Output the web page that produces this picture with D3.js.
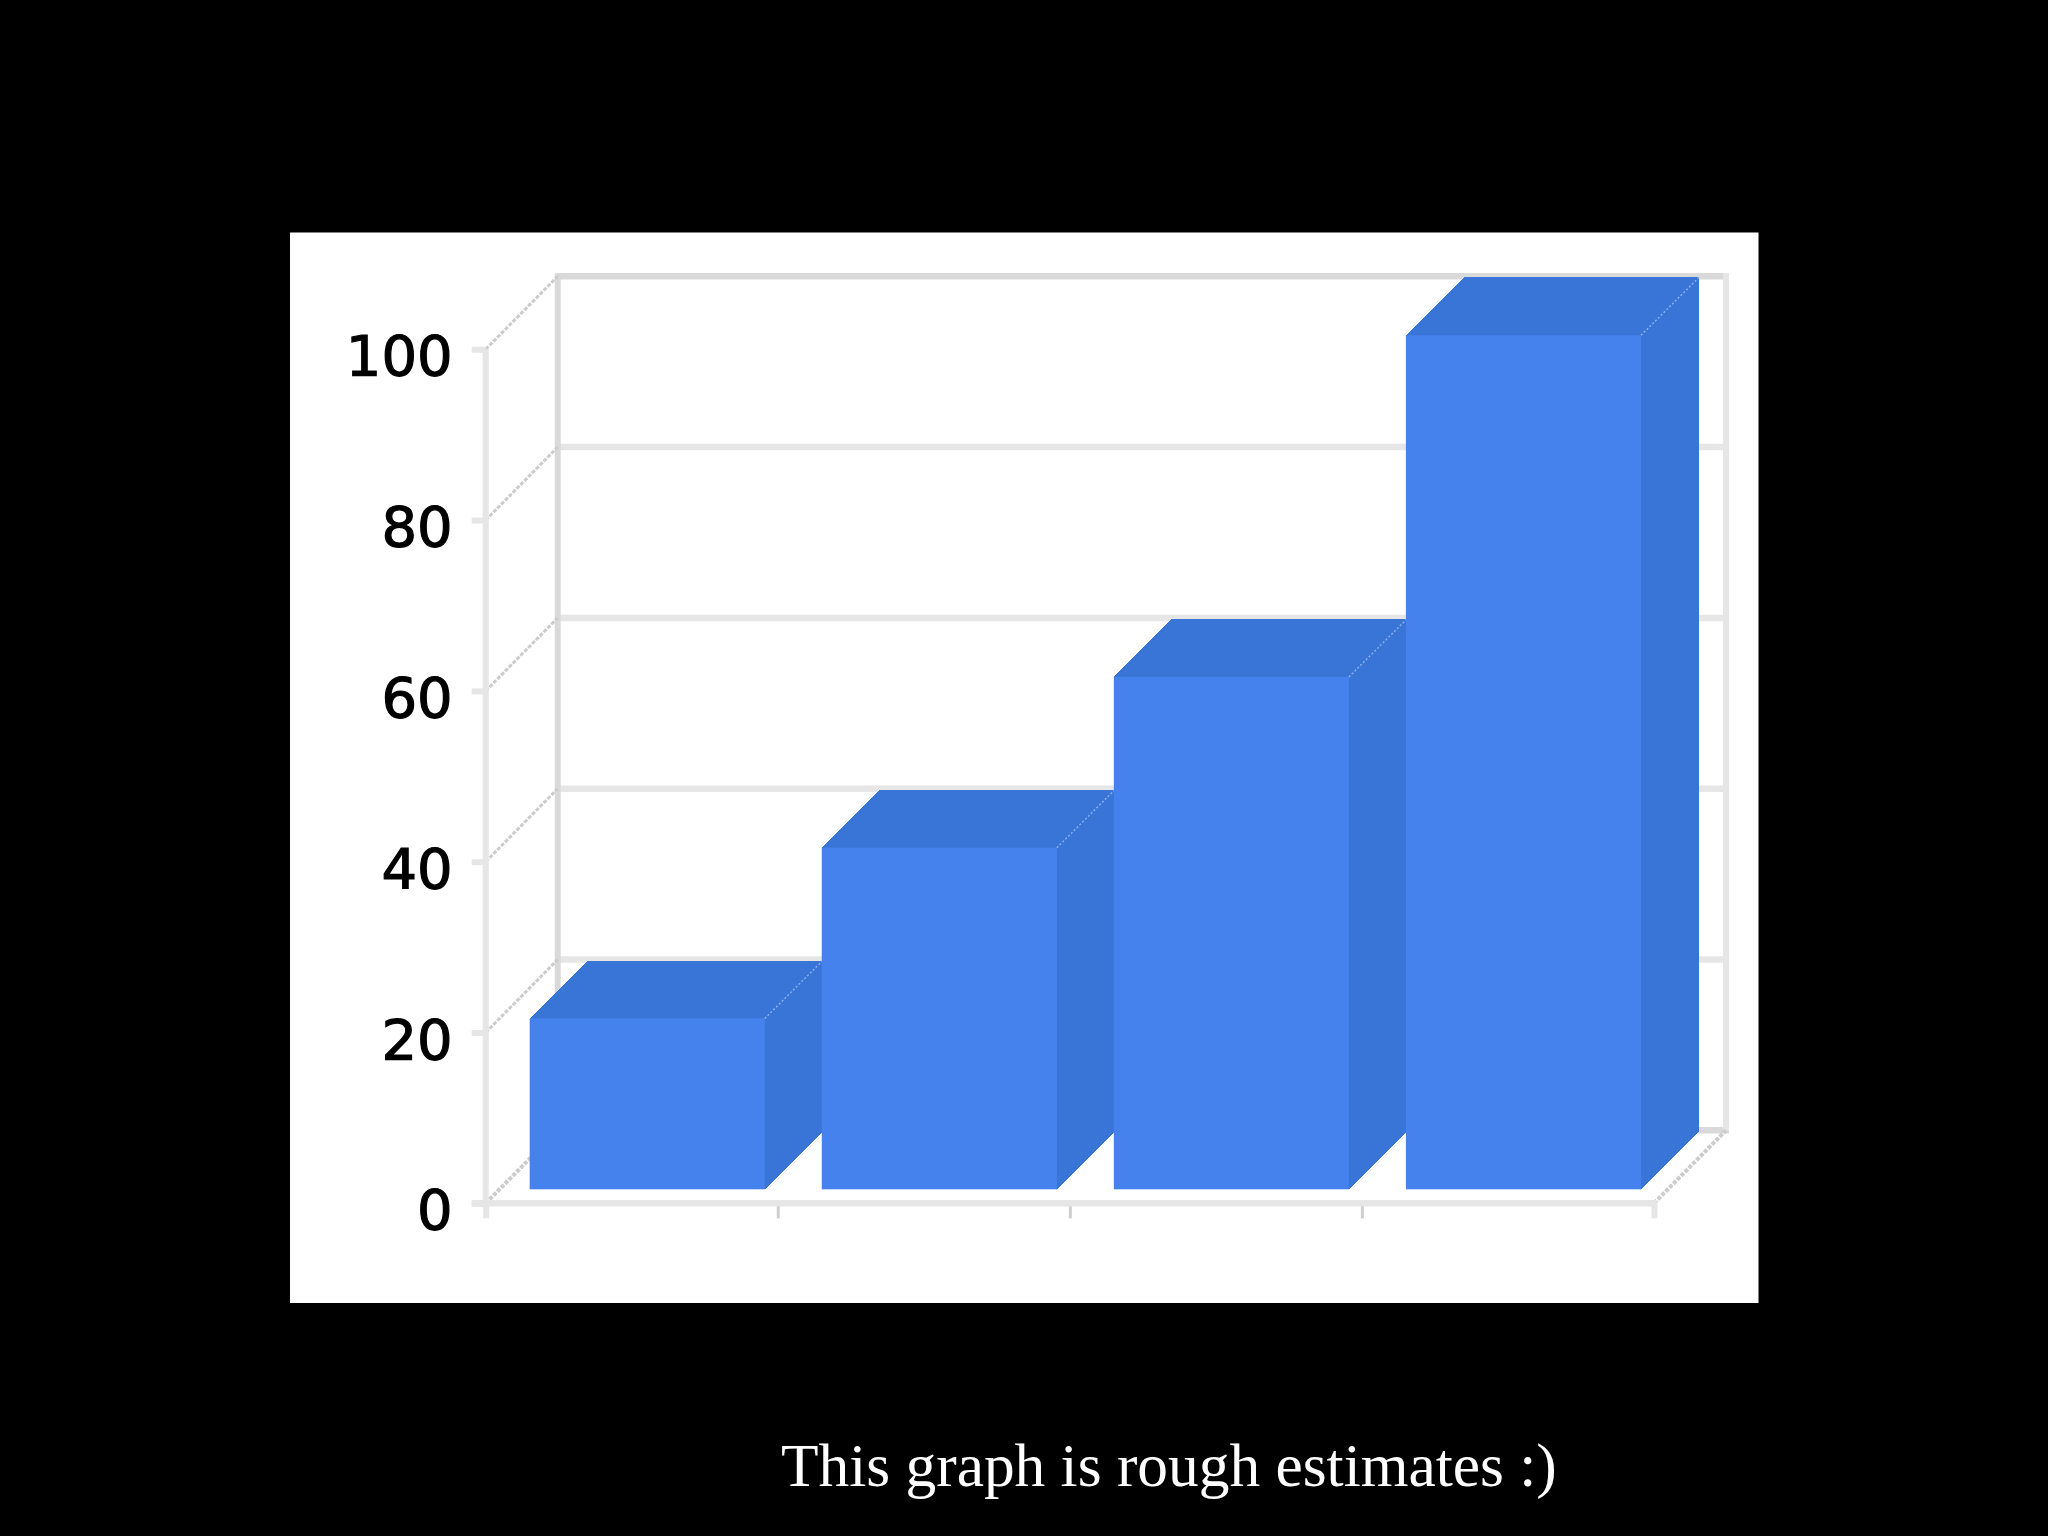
<!DOCTYPE html>
<html lang="en">
<head>
<meta charset="utf-8">
<title>Rough estimates</title>
<script src="https://cdnjs.cloudflare.com/ajax/libs/d3/7.8.5/d3.min.js"></script>
<style>
    html, body { margin: 0; background: #000; }
    svg { display: block; }
</style>
</head>
<body>
<script>
// values
const categories = ["A", "B", "C", "D"];
const values = [20, 40, 60, 100];
const yTicks = [0, 20, 40, 60, 80, 100];
const xEdges = [0, 1, 2, 3, 4];
const caption = "This graph is rough estimates :)";

const width = 2048, height = 1536;
const panel = { x: 290, y: 232.5, w: 1468.5, h: 1070.5 };
const plot = { left: 485.7, right: 1654, top: 349.3, bottom: 1203.3 };
const wallDx = 72, wallDy = -73;    // front plane to back wall
const barInset = 15.5, barDepth = 58; // bars sit inside the box

const frontBlue = "#4682ee", darkBlue = "#3975d7";
const gridLight = "#e6e6e6", gridDark = "#d9d9d9";

const svg = d3.select("body").append("svg")
    .attr("width", width)
    .attr("height", height);

svg.append("rect").attr("width", width).attr("height", height).attr("fill", "#000");
svg.append("rect")
    .attr("x", panel.x).attr("y", panel.y)
    .attr("width", panel.w).attr("height", panel.h)
    .attr("fill", "#fff");

const soften = svg.append("defs").append("filter").attr("id", "soften");
soften.append("feGaussianBlur").attr("stdDeviation", 0.7);

const y = d3.scaleLinear().domain([0, 100]).range([plot.bottom, plot.top]);
const x = d3.scaleBand().domain(categories)
    .range([plot.left, plot.right])
    .paddingInner(0.195)
    .paddingOuter(0.0975);
const xEdge = d3.scaleLinear().domain([0, 4]).range([plot.left, plot.right]);

const box = svg.append("g").attr("filter", "url(#soften)");

// back wall gridlines
box.selectAll("line.grid")
    .data(yTicks.filter(d => d > 0))
    .join("line")
    .attr("class", "grid")
    .attr("x1", plot.left + wallDx)
    .attr("x2", plot.right + wallDx + 3)
    .attr("y1", d => y(d) + wallDy)
    .attr("y2", d => y(d) + wallDy)
    .attr("stroke", d => d === 100 ? gridDark : gridLight)
    .attr("stroke-width", 6.5);

// floor line at the back, only its right end shows
box.append("line")
    .attr("x1", plot.left + wallDx).attr("x2", plot.right + wallDx + 3)
    .attr("y1", y(0) + wallDy).attr("y2", y(0) + wallDy)
    .attr("stroke", gridDark).attr("stroke-width", 6.5);

// walls
box.append("line")
    .attr("x1", plot.left + wallDx).attr("x2", plot.left + wallDx)
    .attr("y1", y(100) + wallDy - 3).attr("y2", y(0) + wallDy)
    .attr("stroke", gridDark).attr("stroke-width", 6);
box.append("line")
    .attr("x1", plot.right + wallDx).attr("x2", plot.right + wallDx)
    .attr("y1", y(100) + wallDy - 3).attr("y2", y(0) + wallDy)
    .attr("stroke", gridLight).attr("stroke-width", 6);

// diagonals from the front plane to the wall
box.selectAll("line.diag")
    .data(yTicks)
    .join("line")
    .attr("class", "diag")
    .attr("x1", plot.left).attr("x2", plot.left + wallDx)
    .attr("y1", d => y(d)).attr("y2", d => y(d) + wallDy)
    .attr("stroke", "#cccccc").attr("stroke-width", d => d === 0 ? 4 : 3)
    .attr("stroke-dasharray", "4 1.5");
box.append("line")
    .attr("x1", plot.right).attr("x2", plot.right + wallDx)
    .attr("y1", y(0)).attr("y2", y(0) + wallDy)
    .attr("stroke", "#cccccc").attr("stroke-width", 4)
    .attr("stroke-dasharray", "4 1.5");

// axes
const axisLeft = box.append("g")
    .attr("transform", `translate(${plot.left},0)`)
    .call(d3.axisLeft(y).tickValues(yTicks).tickSize(14).tickPadding(20));
axisLeft.select(".domain").remove();
axisLeft.selectAll(".tick line").attr("stroke", gridLight).attr("stroke-width", 6);
axisLeft.selectAll(".tick text")
    .attr("dy", null)
    .attr("y", 25.5)
    .attr("x", -33)
    .attr("fill", "#000")
    .attr("stroke", "#000")
    .attr("stroke-width", 1.2)
    .style("font-family", "'DejaVu Sans'")
    .style("font-size", "56px");

const axisBottom = box.append("g")
    .attr("transform", `translate(0,${plot.bottom})`)
    .call(d3.axisBottom(xEdge).tickValues(xEdges).tickSize(15).tickFormat(""));
axisBottom.select(".domain").remove();
axisBottom.selectAll(".tick line")
    .attr("stroke", d => d === 0 || d === 4 ? gridLight : "#cfcfcf")
    .attr("stroke-width", d => d === 0 || d === 4 ? 6 : 3);

box.append("line")
    .attr("x1", plot.left).attr("x2", plot.left)
    .attr("y1", y(100)).attr("y2", y(0))
    .attr("stroke", gridLight).attr("stroke-width", 6);
box.append("line")
    .attr("x1", plot.left - 14).attr("x2", plot.right + 3)
    .attr("y1", y(0)).attr("y2", y(0))
    .attr("stroke", gridLight).attr("stroke-width", 6.5);

// bars, left to right so each one covers the side of the last
const bar = svg.selectAll("g.bar")
    .data(categories.map((c, i) => ({ c, v: values[i] })))
    .join("g")
    .attr("class", "bar")
    .attr("transform", `translate(${barInset},${-14})`);

const pts = a => a.map(p => p.join(",")).join(" ");

// top and side reach 2px under the front face so no seam shows
bar.append("polygon")
    .attr("fill", darkBlue)
    .attr("shape-rendering", "crispEdges")
    .attr("points", d => {
        const l = x(d.c), r = l + x.bandwidth(), t = y(d.v);
        return pts([[l, t + 2], [l, t], [l + barDepth, t - barDepth], [r + barDepth, t - barDepth], [r, t], [r, t + 2]]);
    });
bar.append("polygon")
    .attr("fill", darkBlue)
    .attr("shape-rendering", "crispEdges")
    .attr("points", d => {
        const r = x(d.c) + x.bandwidth(), t = y(d.v), b = y(0);
        return pts([[r - 2, t], [r, t], [r + barDepth, t - barDepth], [r + barDepth, b - barDepth], [r, b], [r - 2, b]]);
    });
bar.append("rect")
    .attr("fill", frontBlue)
    .attr("x", d => x(d.c))
    .attr("y", d => y(d.v))
    .attr("width", x.bandwidth())
    .attr("height", d => y(0) - y(d.v));
bar.append("line")
    .attr("x1", d => x(d.c) + x.bandwidth())
    .attr("y1", d => y(d.v))
    .attr("x2", d => x(d.c) + x.bandwidth() + barDepth)
    .attr("y2", d => y(d.v) - barDepth)
    .attr("stroke", "#8db3f3")
    .attr("stroke-width", 1.4)
    .attr("stroke-dasharray", "2 2");

svg.append("text")
    .attr("x", 781)
    .attr("y", 1485.5)
    .attr("fill", "#fff")
    .style("font-family", "'Liberation Serif'")
    .style("font-size", "61.4px")
    .text(caption);
</script>
</body>
</html>
